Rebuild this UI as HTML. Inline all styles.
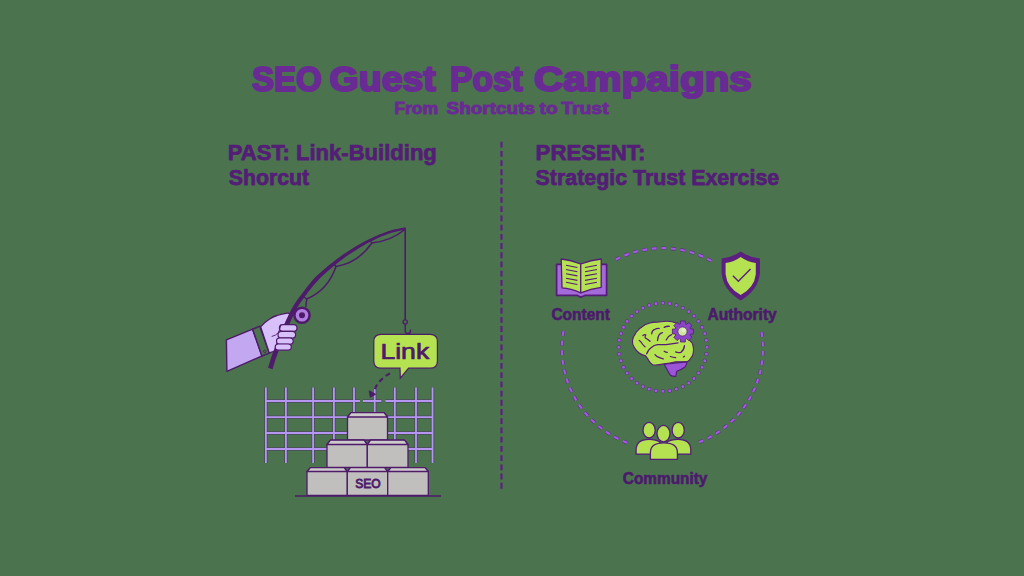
<!DOCTYPE html>
<html><head><meta charset="utf-8">
<style>
html,body{margin:0;padding:0;width:1024px;height:576px;overflow:hidden;background:#4a734e;}
svg{display:block;position:absolute;left:0;top:0}
text{font-family:"Liberation Sans",sans-serif;font-weight:bold}
</style></head>
<body>
<svg width="1024" height="576" viewBox="0 0 1024 576">
<!-- Titles -->
<g fill="#6a2a94" stroke="#6a2a94" stroke-width="2.1" stroke-linejoin="round" font-size="35.6">
<text x="252" y="91.4" textLength="69.8" lengthAdjust="spacingAndGlyphs">SEO</text>
<text x="329.6" y="91.4" textLength="106.2" lengthAdjust="spacingAndGlyphs">Guest</text>
<text x="450" y="91.4" textLength="72.8" lengthAdjust="spacingAndGlyphs">Post</text>
<text x="534" y="91.4" textLength="217.8" lengthAdjust="spacingAndGlyphs">Campaigns</text>
</g>
<g fill="#6a2a94" stroke="#6a2a94" stroke-width="0.9" stroke-linejoin="round" font-size="16.2">
<text x="394.2" y="113.6" textLength="44.02" lengthAdjust="spacingAndGlyphs">From</text>
<text x="446.6" y="113.6" textLength="88.41" lengthAdjust="spacingAndGlyphs">Shortcuts</text>
<text x="539.6" y="113.6" textLength="18.05" lengthAdjust="spacingAndGlyphs">to</text>
<text x="561.2" y="113.6" textLength="47.41" lengthAdjust="spacingAndGlyphs">Trust</text>
</g>
<g fill="#541d76" stroke="#541d76" stroke-width="0.75" stroke-linejoin="round" font-size="22.6">
<text x="227.8" y="159.5" textLength="209.02" lengthAdjust="spacingAndGlyphs">PAST: Link-Building</text>
<text x="228.8" y="185.3" textLength="80.4" lengthAdjust="spacingAndGlyphs">Shorcut</text>
<text x="535.6" y="159.5" textLength="109.68" lengthAdjust="spacingAndGlyphs">PRESENT:</text>
<text x="535.6" y="185.3" textLength="243.6" lengthAdjust="spacingAndGlyphs">Strategic Trust Exercise</text>
</g>

<!-- divider -->
<line x1="501.5" y1="141.7" x2="501.5" y2="489.8" stroke="#5c2080" stroke-width="2.2" stroke-dasharray="5.8 3.42"/>

<!-- ===== LEFT ILLUSTRATION ===== -->
<!-- grid -->
<g stroke="#4e1a6a" stroke-width="3.4" stroke-opacity="0.45" fill="none">
  <path d="M265.9 387.5V463 M285.9 387.5V463 M313.1 387.5V463 M333.9 387.5V463 M354 387.5V463 M374.7 387.5V463 M394.8 387.5V463 M416 387.5V463 M432.5 387.5V463"/>
  <path d="M265.9 417.1H432.5 M265.9 433H432.5 M265.9 449H432.5 M265.9 401H360 M363 401H381.3 M385.4 401H432.5"/>
</g>
<g stroke="#b596f2" stroke-width="1.8" fill="none">
  <path d="M265.9 387.5V463 M285.9 387.5V463 M313.1 387.5V463 M333.9 387.5V463 M354 387.5V463 M374.7 387.5V463 M394.8 387.5V463 M416 387.5V463 M432.5 387.5V463"/>
  <path d="M265.9 417.1H432.5 M265.9 433H432.5 M265.9 449H432.5 M265.9 401H360 M363 401H381.3 M385.4 401H432.5"/>
</g>

<!-- blocks -->
<g stroke="#4e1a6a" stroke-width="1.3" stroke-linejoin="round">
  <path d="M347.5 440V417 L351 412.6 H384 L387.5 417 V440 Z" fill="#c0bfbd"/>
  <path d="M347.5 417 L351 412.6 H384 L387.5 417 Z" fill="#cccbc9"/>
  <path d="M327 467.5V444.5 L330.5 440.2 H364 L367.3 444.5 V467.5 Z" fill="#c0bfbd"/>
  <path d="M367.3 467.5V444.5 L370.6 440.2 H404.5 L408 444.5 V467.5 Z" fill="#c0bfbd"/>
  <path d="M327 444.5 L330.5 440.2 H364 L367.3 444.5 Z" fill="#cccbc9"/>
  <path d="M367.3 444.5 L370.6 440.2 H404.5 L408 444.5 Z" fill="#cccbc9"/>
  <path d="M307 495.3V471.5 L310.5 467.6 H344 L347.3 471.5 V495.3 Z" fill="#c0bfbd"/>
  <path d="M347.3 495.3V471.5 L350.6 467.6 H384.5 L387.7 471.5 V495.3 Z" fill="#c0bfbd"/>
  <path d="M387.7 495.3V471.5 L391 467.6 H425 L428.3 471.5 V495.3 Z" fill="#c0bfbd"/>
  <path d="M307 471.5 L310.5 467.6 H344 L347.3 471.5 Z" fill="#cccbc9"/>
  <path d="M347.3 471.5 L350.6 467.6 H384.5 L387.7 471.5 Z" fill="#cccbc9"/>
  <path d="M387.7 471.5 L391 467.6 H425 L428.3 471.5 Z" fill="#cccbc9"/>
</g>
<line x1="295" y1="496" x2="441" y2="496" stroke="#4e1a6a" stroke-width="1.5"/>
<text x="355.2" y="488" font-size="12.5" fill="#4e1a6a" textLength="25.48" lengthAdjust="spacingAndGlyphs" style="font-weight:normal" stroke="#4e1a6a" stroke-width="0.85">SEO</text>

<!-- dashed arrow -->
<path d="M390 373.4 Q381 378 376 386.5 L373.5 392" stroke="#4e1a6a" stroke-width="2" fill="none" stroke-dasharray="5 3.6"/>
<path d="M369.3 391 L370.3 397 L375.3 394.2 Z" fill="#4e1a6a" stroke="#4e1a6a" stroke-width="1.1" stroke-linejoin="round"/>

<!-- fishing line -->
<line x1="405.2" y1="229" x2="405.2" y2="320" stroke="#4e1a6a" stroke-width="1.6"/>
<circle cx="405.2" cy="322" r="2.1" fill="none" stroke="#4e1a6a" stroke-width="1.3"/>
<path d="M405.2 324 V331.5 Q405.5 333.5 408 333.5 Q410.5 333.5 410.5 331 V329.5" stroke="#4e1a6a" stroke-width="1.4" fill="none"/>

<!-- Link bubble -->
<path d="M381 334.4 H430.2 Q437.4 334.4 437.4 341.6 V361 Q437.4 368.2 430.2 368.2 H408.6 L400.3 378.2 L400 368.2 H381 Q373.8 368.2 373.8 361 V341.6 Q373.8 334.4 381 334.4 Z" fill="#b4e250" stroke="#4e1a6a" stroke-width="1.2"/>
<text x="380.4" y="359.3" font-size="22.5" fill="#4e1a6a" stroke="#4e1a6a" stroke-width="0.7" stroke-linejoin="round" style="font-weight:normal" textLength="48.85" lengthAdjust="spacingAndGlyphs">Link</text>

<!-- rod line -->
<path d="M405.5 229 Q391 241 371.8 243 Q358 263 336 266.5 Q328 290 306.7 299 L305.8 307" stroke="#4e1a6a" stroke-width="1.45" fill="none" stroke-linejoin="round"/>
<path d="M370 240 L371.8 243 M333.6 263.5 L336 266.5 M303 296 L306.7 299" stroke="#4e1a6a" stroke-width="1.45" fill="none"/>

<!-- sleeve -->
<path d="M226.4 339.9 L252.6 329.2 L261.9 356 L226.9 371.3 Z" fill="#c3a8f1" stroke="#4e1a6a" stroke-width="1.4" stroke-linejoin="round"/>
<path d="M252.6 329.2 L259.8 326.2 L269.3 353.2 L261.9 356 Z" fill="#4a734e" stroke="#4e1a6a" stroke-width="1.4" stroke-linejoin="round"/>
<circle cx="264.8" cy="351.4" r="1.3" fill="none" stroke="#4e1a6a" stroke-width="0.8"/>
<!-- hand -->
<path d="M260.6 326.8 Q265 322 269.3 319.3 Q273 316.5 277 315.5 Q282 314 287.5 313.1 Q291.5 313 290.8 316.5 Q289.5 320 286 323.5 L283 331 L280 344 L276.5 350.5 L269.2 352.8 Z" fill="#d8c0fa" stroke="#4e1a6a" stroke-width="1.3" stroke-linejoin="round"/>
<path d="M405.5 227.2 L403.4 227.7 L401.3 228.1 L399.3 228.5 L397.2 228.9 L395.2 229.3 L393.0 229.8 L390.8 230.4 L388.6 231.1 L386.3 231.9 L384.0 232.7 L381.6 233.7 L379.1 234.6 L376.7 235.7 L374.2 236.7 L371.8 237.9 L369.4 239.0 L366.9 240.2 L364.5 241.5 L362.1 242.8 L359.6 244.2 L357.2 245.6 L354.8 247.0 L352.4 248.5 L350.1 249.9 L347.8 251.4 L345.6 252.9 L343.4 254.3 L341.2 255.9 L339.0 257.4 L336.9 259.0 L334.7 260.7 L332.5 262.4 L330.2 264.2 L327.9 266.0 L325.6 267.9 L323.3 269.9 L321.0 271.9 L318.8 273.9 L316.6 276.0 L314.5 278.1 L312.5 280.3 L310.6 282.6 L308.7 284.9 L306.8 287.3 L305.1 289.6 L303.4 291.8 L301.8 293.9 L300.4 295.8 L299.0 297.6 L297.8 299.2 L296.7 300.7 L295.7 302.2 L294.8 303.6 L293.9 305.0 L293.0 306.5 L292.1 307.9 L291.3 309.4 L290.5 310.9 L289.8 312.4 L289.1 313.8 L288.4 315.2 L287.8 316.7 L287.1 318.1 L286.4 319.6 L285.7 321.1 L285.0 322.6 L284.3 324.1 L283.6 325.7 L282.9 327.3 L282.2 328.9 L281.5 330.5 L280.8 332.1 L280.2 333.7 L279.5 335.4 L278.9 337.0 L278.2 338.7 L277.6 340.3 L277.0 342.0 L276.4 343.6 L275.8 345.2 L275.2 346.7 L274.6 348.3 L274.0 349.8 L273.4 351.3 L272.9 352.8 L272.3 354.3 L271.8 355.8 L271.3 357.2 L270.8 358.7 L270.4 360.0 L270.0 361.4 L269.6 362.7 L269.2 364.0 L268.8 365.3 L268.4 366.5 L268.0 367.8 L272.6 369.2 L272.9 367.9 L273.3 366.6 L273.7 365.3 L274.1 364.0 L274.5 362.7 L274.9 361.4 L275.3 360.1 L275.7 358.8 L276.2 357.4 L276.7 355.9 L277.3 354.5 L277.8 353.0 L278.4 351.5 L279.0 349.9 L279.6 348.4 L280.2 346.8 L280.8 345.2 L281.4 343.6 L282.0 342.0 L282.6 340.4 L283.3 338.7 L283.9 337.1 L284.5 335.5 L285.2 333.9 L285.8 332.3 L286.5 330.7 L287.2 329.2 L287.8 327.6 L288.5 326.0 L289.2 324.5 L289.9 323.0 L290.6 321.4 L291.2 319.9 L291.9 318.5 L292.5 317.0 L293.1 315.6 L293.7 314.3 L294.4 312.9 L295.1 311.5 L295.9 310.1 L296.7 308.7 L297.5 307.3 L298.3 305.9 L299.2 304.5 L300.2 303.1 L301.2 301.6 L302.4 300.0 L303.6 298.2 L305.1 296.3 L306.6 294.2 L308.2 292.0 L310.0 289.7 L311.8 287.4 L313.6 285.2 L315.5 283.0 L317.5 280.9 L319.4 278.8 L321.5 276.8 L323.7 274.8 L325.9 272.8 L328.1 270.8 L330.3 268.9 L332.5 267.0 L334.7 265.2 L336.9 263.5 L339.0 261.8 L341.1 260.2 L343.2 258.7 L345.3 257.1 L347.5 255.6 L349.7 254.1 L351.9 252.7 L354.2 251.2 L356.5 249.7 L358.8 248.3 L361.2 246.8 L363.5 245.4 L365.9 244.1 L368.3 242.8 L370.6 241.6 L373.0 240.4 L375.4 239.3 L377.8 238.1 L380.2 237.1 L382.5 236.1 L384.9 235.2 L387.2 234.3 L389.4 233.5 L391.5 232.8 L393.6 232.2 L395.7 231.7 L397.7 231.2 L399.8 230.8 L401.8 230.3 L403.9 229.9 L405.9 229.4 Z" fill="#4e1a6a"/>
<g fill="#d8c0fa" stroke="#4e1a6a" stroke-width="1.2">
<rect x="279.4" y="324.6" width="17.6" height="6.8" rx="3.4"/>
<rect x="278" y="331.3" width="17.6" height="6.7" rx="3.35"/>
<rect x="276.5" y="337.8" width="16.7" height="6.5" rx="3.25"/>
<rect x="275.2" y="344" width="16.1" height="6.2" rx="3.1"/>
</g>
<path d="M281 324.5 Q279.5 330 278.5 332.5 Q276 335.5 271.7 336.5" stroke="#4e1a6a" stroke-width="0.9" fill="none"/>
<!-- reel -->
<circle cx="302" cy="315.2" r="8.8" fill="#4e1a6a"/>
<circle cx="302" cy="315.2" r="6.3" fill="#b07fe0"/>
<circle cx="302" cy="315.2" r="3" fill="#4e1a6a"/>

<!-- ===== RIGHT DIAGRAM ===== -->
<path d="M562.7 335.8L563.4 331.1M562.0 345.4L562.2 340.7M562.1 355.0L561.9 350.3M563.2 364.6L562.5 359.9M565.2 374.0L564.1 369.4M568.0 383.2L566.5 378.7M571.8 392.0L569.8 387.8M576.3 400.5L574.0 396.4M581.7 408.5L579.0 404.7M587.8 415.9L584.7 412.4M594.6 422.8L591.2 419.5M602.0 428.9L598.3 426.0M609.9 434.3L606.0 431.8M618.4 439.0L614.2 436.8M627.2 442.7L622.9 441.0M761.5 332.1L762.2 336.8M762.6 341.5L762.9 346.2M762.9 350.9L762.7 355.6M762.2 360.4L761.5 365.0M760.7 369.7L759.6 374.3M758.2 378.8L756.7 383.3M755.0 387.7L753.1 392.0M750.9 396.2L748.6 400.3M746.0 404.3L743.3 408.2M740.4 411.9L737.4 415.5M734.2 419.0L730.8 422.2M727.2 425.4L723.6 428.3M719.7 431.1L715.8 433.7M711.7 436.2L707.6 438.4M703.3 440.4L699.0 442.2M615.8 259.6L620.0 257.5M624.4 255.6L628.8 253.9M633.3 252.4L637.9 251.1M642.5 250.1L647.2 249.3M651.9 248.6L656.6 248.3M661.4 248.1L666.1 248.2M670.9 248.5L675.6 249.0M680.3 249.7L684.9 250.7M689.6 251.9L694.1 253.2M698.6 254.9L703.0 256.6M707.3 258.7L711.5 260.9" fill="none" stroke="#5a1f80" stroke-opacity="0.8" stroke-width="3.3"/>
<path d="M562.7 335.8L563.4 331.1M562.0 345.4L562.2 340.7M562.1 355.0L561.9 350.3M563.2 364.6L562.5 359.9M565.2 374.0L564.1 369.4M568.0 383.2L566.5 378.7M571.8 392.0L569.8 387.8M576.3 400.5L574.0 396.4M581.7 408.5L579.0 404.7M587.8 415.9L584.7 412.4M594.6 422.8L591.2 419.5M602.0 428.9L598.3 426.0M609.9 434.3L606.0 431.8M618.4 439.0L614.2 436.8M627.2 442.7L622.9 441.0M761.5 332.1L762.2 336.8M762.6 341.5L762.9 346.2M762.9 350.9L762.7 355.6M762.2 360.4L761.5 365.0M760.7 369.7L759.6 374.3M758.2 378.8L756.7 383.3M755.0 387.7L753.1 392.0M750.9 396.2L748.6 400.3M746.0 404.3L743.3 408.2M740.4 411.9L737.4 415.5M734.2 419.0L730.8 422.2M727.2 425.4L723.6 428.3M719.7 431.1L715.8 433.7M711.7 436.2L707.6 438.4M703.3 440.4L699.0 442.2M615.8 259.6L620.0 257.5M624.4 255.6L628.8 253.9M633.3 252.4L637.9 251.1M642.5 250.1L647.2 249.3M651.9 248.6L656.6 248.3M661.4 248.1L666.1 248.2M670.9 248.5L675.6 249.0M680.3 249.7L684.9 250.7M689.6 251.9L694.1 253.2M698.6 254.9L703.0 256.6M707.3 258.7L711.5 260.9" fill="none" stroke="#a558e8" stroke-width="2.2" transform="translate(0 0)"/>
<path d="M662.8 303.1h0M669.7 303.6h0M676.4 305.3h0M682.8 307.9h0M688.7 311.5h0M694.0 316.0h0M698.5 321.3h0M702.1 327.2h0M704.7 333.6h0M706.4 340.3h0M706.9 347.2h0M706.4 354.1h0M704.7 360.8h0M702.1 367.2h0M698.5 373.1h0M694.0 378.4h0M688.7 382.9h0M682.8 386.5h0M676.4 389.1h0M669.7 390.8h0M662.8 391.3h0M655.9 390.8h0M649.2 389.1h0M642.8 386.5h0M636.9 382.9h0M631.6 378.4h0M627.1 373.1h0M623.5 367.2h0M620.9 360.8h0M619.2 354.1h0M618.7 347.2h0M619.2 340.3h0M620.9 333.6h0M623.5 327.2h0M627.1 321.3h0M631.6 316.0h0M636.9 311.5h0M642.8 307.9h0M649.2 305.3h0M655.9 303.6h0" fill="none" stroke="#5a1f80" stroke-opacity="0.8" stroke-width="4" stroke-linecap="round"/>
<path d="M662.8 303.1h0M669.7 303.6h0M676.4 305.3h0M682.8 307.9h0M688.7 311.5h0M694.0 316.0h0M698.5 321.3h0M702.1 327.2h0M704.7 333.6h0M706.4 340.3h0M706.9 347.2h0M706.4 354.1h0M704.7 360.8h0M702.1 367.2h0M698.5 373.1h0M694.0 378.4h0M688.7 382.9h0M682.8 386.5h0M676.4 389.1h0M669.7 390.8h0M662.8 391.3h0M655.9 390.8h0M649.2 389.1h0M642.8 386.5h0M636.9 382.9h0M631.6 378.4h0M627.1 373.1h0M623.5 367.2h0M620.9 360.8h0M619.2 354.1h0M618.7 347.2h0M619.2 340.3h0M620.9 333.6h0M623.5 327.2h0M627.1 321.3h0M631.6 316.0h0M636.9 311.5h0M642.8 307.9h0M649.2 305.3h0M655.9 303.6h0" fill="none" stroke="#a558e8" stroke-width="3" stroke-linecap="round"/>

<!-- book -->
<path d="M556.6 264.4 H606.6 V295.3 H585.3 L580.75 297.2 L577 295.3 H556.6 Z" fill="#a56ad9" stroke="#541c78" stroke-width="1.7" stroke-linejoin="round"/>
<path d="M561.2 259 Q571 260 580.75 264 V292.8 Q571 288.5 562 287.8 Z" fill="#b4e250" stroke="#541c78" stroke-width="1.3" stroke-linejoin="round"/>
<path d="M601.2 259 Q591 260 580.75 264 V292.8 Q591 288.5 601.2 287.3 Z" fill="#b4e250" stroke="#541c78" stroke-width="1.3" stroke-linejoin="round"/>
<path d="M566 265.3 L577.4 267.5 M566 269.5 L577.4 271.7 M566 273.7 L577.4 275.9 M566 278.2 L577.4 280.4 M566 282.3 L577.4 284.5 M585 267.5 L597 265.3 M585 271.7 L597 269.5 M585 275.9 L597 273.7 M585 280.4 L597 278.2 M585 284.5 L597 282.3" stroke="#541c78" stroke-width="1.1"/>

<!-- shield -->
<path d="M740.7 251.5 Q732 257.5 721.6 258.6 V273.2 Q723 290 740.7 300.4 Q758.4 290 759.9 273.2 V258.6 Q749.4 257.5 740.7 251.5 Z" fill="#5c1f80"/>
<path d="M740.7 257.1 Q734 262 725.6 263.1 V274.2 Q727 287.5 740.7 294.9 Q754.4 287.5 755.8 274.2 V263.1 Q747.4 262 740.7 257.1 Z" fill="#b4e250"/>
<path d="M732.9 275.7 L738.4 281.3 L750.5 269" stroke="#5c1f80" stroke-width="1.4" fill="none"/>

<!-- brain -->
<path d="M632.5 340.5 Q633 336.5 635 334.7 Q636 331.5 637.9 330.5 Q639.5 328 641.7 327.2 Q645 324 650 323 Q653 322 656.7 322.2 L666 321.3 Q672 321 676 323 L684 336 Q688 338 690.2 341 Q692.5 342.5 692.8 345 Q694 348.5 693.3 352.4 Q693 356 691.2 357.6 Q689.5 361 687 361.8 L675.6 361.8 Q670 363.5 664.2 363.8 Q657 365.5 652.5 364.7 Q650 363 649.2 361.3 Q646.5 356.5 645 355.5 Q641.5 355 639.2 353 Q636 350.5 634.2 347.2 Q632 344 632.5 340.5 Z" fill="#b6e352" stroke="#541c78" stroke-width="1.1" stroke-linejoin="round"/>
<path d="M664.2 364.2 L687 361.9 Q686.5 365.5 685 367 Q681 370 676.7 371.2 L675.8 376.4 Q672 376.5 670.4 375.3 Q668 371.5 666.2 368 Z" fill="#9b55d8" stroke="#541c78" stroke-width="1.1" stroke-linejoin="round"/>
<g stroke="#541c78" stroke-width="1.3" fill="none" stroke-linecap="round">
<path d="M642.9 335.5 Q645 334 645.8 335 Q644.5 337 645.4 338 Q648 339.5 650 341.3"/>
<path d="M639.2 340.5 Q641 341.5 641.7 343 Q643 345 645 346.8"/>
<path d="M651.7 333.8 Q652 330.5 654.2 329.7 Q656.5 328.3 659.2 328.4"/>
<path d="M657.5 340.5 Q658 336.5 659.2 334.7 Q660.5 333 662.5 332.6"/>
<path d="M646.7 353.8 Q648.5 349 651.7 347.2 Q654 345.2 657.5 344.7 L666 344.7 Q671 344 678 342.8"/>
<path d="M655 354.7 Q656.5 356.5 658.3 357.2 Q661 358.5 663.3 358.8"/>
<path d="M664.2 327.4 Q666.5 326 669.4 326.3"/>
<path d="M666.2 339.9 Q668 336 671.5 334.7"/>
<path d="M664.2 351.3 Q666 352.5 667.3 352.4"/>
<path d="M675.6 351.9 Q678 353 680.8 352.4 Q684 350 684.5 345.6"/>
<path d="M670.4 356.5 Q673 357.5 675.6 357.6"/>
<path d="M683.4 357 L684.5 356.3"/>
</g>
<path d="M680.4 323.9 L680.5 321.0 L685.3 321.0 L685.4 323.9 L686.5 324.4 L688.7 322.4 L692.0 325.7 L690.0 327.9 L690.5 329.0 L693.4 329.1 L693.4 333.9 L690.5 334.0 L690.0 335.1 L692.0 337.3 L688.7 340.6 L686.5 338.6 L685.4 339.1 L685.3 342.0 L680.5 342.0 L680.4 339.1 L679.3 338.6 L677.1 340.6 L673.8 337.3 L675.8 335.1 L675.3 334.0 L672.4 333.9 L672.4 329.1 L675.3 329.0 L675.8 327.9 L673.8 325.7 L677.1 322.4 L679.3 324.4 Z" fill="#8c45c8" stroke="#541c78" stroke-width="0.8" stroke-linejoin="round"/>
<circle cx="682.5" cy="331.5" r="4.6" fill="#cde59c" stroke="#541c78" stroke-width="0.7"/>
<circle cx="683.5" cy="330.3" r="2" fill="#e4f0c8"/>

<!-- people -->
<g fill="#b4e250" stroke="#541c78" stroke-width="1.3">
  <path d="M636.1 454.1 V450 Q636.1 439.3 649 439.3 Q656 439.3 660 442 L657 454.1 Z"/>
  <path d="M667 442 Q671 439.3 678 439.3 Q690.8 439.3 690.8 450 V454.1 H670 Z"/>
  <ellipse cx="649.1" cy="430.2" rx="6.1" ry="7.8"/>
  <ellipse cx="678.2" cy="430.2" rx="6.1" ry="7.8"/>
  <path d="M650.4 459.3 V452.5 Q650.4 442.8 663.9 442.8 Q677.4 442.8 677.4 452.5 V459.3 Z"/>
  <ellipse cx="663.5" cy="433.6" rx="6.5" ry="8.2"/>
</g>

<g fill="#4c1a6c" stroke="#4c1a6c" stroke-width="0.6" stroke-linejoin="round" font-size="16">
<text x="551.4" y="319.7" textLength="58.61" lengthAdjust="spacingAndGlyphs">Content</text>
<text x="707.4" y="319.7" textLength="69.43" lengthAdjust="spacingAndGlyphs">Authority</text>
<text x="622.8" y="483.6" textLength="84.61" lengthAdjust="spacingAndGlyphs">Community</text>
</g>
</svg>
</body></html>
